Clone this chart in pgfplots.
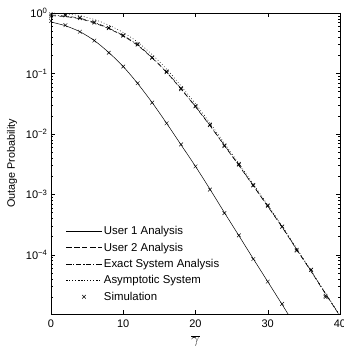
\documentclass[border=0pt]{standalone}
\usepackage{fontspec}
\setmainfont{Liberation Sans}
\usepackage{pgfplots}
\pgfplotsset{compat=1.18}
\begin{document}
\begin{tikzpicture}
\begin{axis}[
  scale only axis, width=289bp, height=301bp,
  ymode=log, xmin=0, xmax=40, ymin=1.05e-5, ymax=1,
  xtick={0,10,20,30,40}, xticklabels={0,10,20,30,40},
  ytick={1e-4,1e-3,1e-2,1e-1,1},
  yticklabels={10\textsuperscript{−4},10\textsuperscript{−3},10\textsuperscript{−2},10\textsuperscript{−1},10\textsuperscript{0}},
  minor ytick={2e-5,3e-5,4e-5,5e-5,6e-5,7e-5,8e-5,9e-5,2e-4,3e-4,4e-4,5e-4,6e-4,7e-4,8e-4,9e-4,2e-3,3e-3,4e-3,5e-3,6e-3,7e-3,8e-3,9e-3,2e-2,3e-2,4e-2,5e-2,6e-2,7e-2,8e-2,9e-2,0.2,0.3,0.4,0.5,0.6,0.7,0.8,0.9},
  tick align=inside, major tick length=4bp, minor tick length=2bp,
  tick style={black, line width=0.4bp},
  axis line style={line width=0.5bp},
  /pgf/number format/assume math mode=true,
  ticklabel style={font=\fontsize{11bp}{13bp}\selectfont},
  xticklabel style={yshift=-2.5bp},
  every axis y label/.style={at={(axis description cs:-0.135,0.5)}, rotate=90, anchor=center, font=\fontsize{10.8bp}{12bp}\selectfont},
  every axis x label/.style={at={(axis description cs:0.5,-0.09)}, anchor=center, font=\fontsize{14bp}{16bp}\selectfont},
  ylabel={Outage Probability},
  xlabel={$\overline{\gamma}$},
  clip=true,
  legend cell align=left,
  legend style={draw=none, fill=none, at={(axis description cs:0.052,0.033)}, anchor=south west,
    font=\fontsize{11.4bp}{13bp}\selectfont, row sep=2.2bp, inner sep=0pt,
    nodes={inner sep=2.2bp}},
  legend image code/.code={\draw[mark repeat=2,mark phase=2,#1] plot coordinates {(0bp,0bp) (17.5bp,0bp) (35bp,0bp)};},
]
% User 1 analysis
\addplot[black, line width=0.5bp, smooth] coordinates {
(0,0.71) (2,0.615) (4,0.49) (6,0.35) (8,0.222) (10,0.13) (12,0.068) (14,0.033) (16,0.0150) (18,0.0066) (20,0.0029) (22,0.00122) (24,0.00050) (26,0.000208) (28,0.0000860) (30,0.0000360) (32,0.0000150) (34,0.0000062)};
\addlegendentry{User 1 Analysis}
% User 2 analysis
\addplot[black, line width=0.5bp, dash pattern=on 5bp off 3bp, smooth] coordinates {
(0,0.90) (2,0.87) (4,0.80) (6,0.68) (8,0.55) (10,0.415) (12,0.29) (14,0.18) (16,0.104) (18,0.055) (20,0.0280) (22,0.0137) (24,0.0064) (26,0.00300) (28,0.00138) (30,0.00063) (32,0.000285) (34,0.000122) (36,0.0000530) (38,0.0000225) (40,0.0000097)};
\addlegendentry{User 2 Analysis}
% Exact system analysis
\addplot[black, line width=0.5bp, dash pattern=on 5bp off 2bp on 1bp off 2bp, smooth] coordinates {
(0,0.93) (2,0.89) (4,0.82) (6,0.70) (8,0.56) (10,0.425) (12,0.297) (14,0.184) (16,0.106) (18,0.056) (20,0.0285) (22,0.0139) (24,0.0065) (26,0.00305) (28,0.00140) (30,0.00064) (32,0.000289) (34,0.000124) (36,0.0000537) (38,0.0000228) (40,0.0000098)};
\addlegendentry{Exact System Analysis}
% Asymptotic system
\addplot[black, line width=0.5bp, dash pattern=on 0.8bp off 2.2bp, smooth] coordinates {
(0,1.0) (2,0.97) (4,0.90) (6,0.78) (8,0.63) (10,0.475) (12,0.33) (14,0.205) (16,0.118) (18,0.062) (20,0.0315) (22,0.0152) (24,0.0070) (26,0.00325) (28,0.00148) (30,0.00067) (32,0.000300) (34,0.000128) (36,0.0000550) (38,0.0000232) (40,0.0000099)};
\addlegendentry{Asymptotic System}
% Simulation (user 1)
\addplot[black, only marks, mark=x, mark size=2.6bp, line width=0.45bp] coordinates {
(0,0.74) (2,0.63) (4,0.49) (6,0.35) (8,0.22) (10,0.13) (12,0.069) (14,0.033) (16,0.0150) (18,0.0067) (20,0.0029) (22,0.00120) (24,0.00049) (26,0.00021) (28,0.0000850) (30,0.0000360) (32,0.0000155)};
\addlegendentry{Simulation}
% Simulation (user 2)
\addplot[black, only marks, mark=x, mark size=2.6bp, line width=0.45bp, forget plot] coordinates {
(0,0.88) (2,0.91) (4,0.82) (6,0.69) (8,0.56) (10,0.42) (12,0.30) (14,0.18) (16,0.105) (18,0.055) (20,0.0285) (22,0.0140) (24,0.0063) (26,0.0031) (28,0.00140) (30,0.00064) (32,0.00029) (34,0.000117) (36,0.0000560) (38,0.0000200)};
% Simulation (system)
\addplot[black, only marks, mark=x, mark size=2.6bp, line width=0.45bp, forget plot] coordinates {
(0,0.95) (2,0.93) (4,0.84) (6,0.71) (8,0.57) (10,0.43) (12,0.305) (14,0.185) (16,0.108) (18,0.057) (20,0.0290) (22,0.0143) (24,0.0065) (26,0.0032) (28,0.00143) (30,0.00066) (32,0.000295) (34,0.000121) (36,0.0000570) (38,0.0000210)};
\end{axis}
\pgfresetboundingbox
\path[use as bounding box] (-51bp,-35bp) rectangle (293bp,314bp);
\end{tikzpicture}
\end{document}
